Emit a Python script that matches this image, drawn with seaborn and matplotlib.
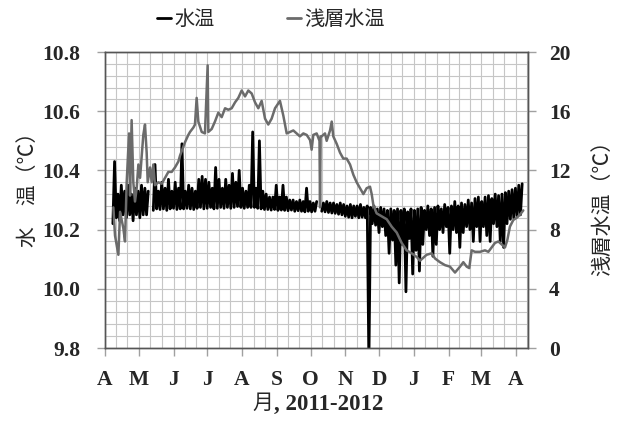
import numpy as np
import pandas as pd
import matplotlib
matplotlib.use("Agg")
import matplotlib.pyplot as plt
import seaborn as sns
from matplotlib.ticker import FixedLocator, MultipleLocator, FormatStrFormatter
from matplotlib.lines import Line2D
from matplotlib.font_manager import FontProperties

# Month axis: days counted from 1 April 2011
month_start = [0, 30, 61, 91, 122, 153, 183, 214, 244, 275, 306, 335, 366]
month_labels = ["A", "M", "J", "J", "A", "S", "O", "N", "D", "J", "F", "M", "A"]

# 水温 (left axis): logger record summarised every 3 days from day 7,
# low and high of each window (None = no record)
wt_start, wt_step = 7, 3
wt_low = [
    10.22, 10.24, 10.23, 10.25, 10.24, 10.25, 10.23, 10.25, 10.24, 10.25,
    10.25, None, 10.265, 10.27, 10.268, 10.27, 10.265, 10.27, 10.272, 10.268,
    10.27, 10.27, 10.272, 10.27, 10.268, 10.272, 10.275, 10.27, 10.272, 10.275,
    10.27, 10.272, 10.275, 10.272, 10.275, 10.272, 10.275, 10.278, 10.275, 10.272,
    10.275, 10.275, 10.275, 10.272, 10.27, 10.268, 10.268, 10.266, 10.268, 10.265,
    10.266, 10.265, 10.264, 10.266, 10.262, 10.264, 10.262, 10.26, 10.262, 10.26,
    10.262, None, 10.262, 10.26, 10.258, 10.256, 10.255, 10.252, 10.25, 10.245,
    10.242, 10.24, 10.245, 10.24, 10.242, 10.24, 9.75, 10.22, 10.215, 10.19,
    10.21, 10.18, 10.12, 10.165, 10.08, 10.02, 10.15, 9.99, 10.17, 10.05,
    10.13, 10.06, 10.15, 10.20, 10.18, 10.11, 10.15, 10.20, 10.19, 10.21,
    10.12, 10.20, 10.19, 10.14, 10.19, 10.21, 10.20, 10.16, 10.21, 10.16,
    10.21, 10.18, 10.16, 10.22, 10.21, 10.16, 10.14, 10.22, 10.235, 10.24,
    10.245, 10.25,
]
wt_high = [
    10.43, 10.32, 10.35, 10.33, 10.35, 10.32, 10.34, 10.33, 10.35, 10.34,
    10.33, None, 10.42, 10.33, 10.36, 10.34, 10.37, 10.33, 10.36, 10.34,
    10.49, 10.33, 10.35, 10.34, 10.33, 10.37, 10.38, 10.37, 10.36, 10.34,
    10.41, 10.37, 10.34, 10.37, 10.35, 10.39, 10.36, 10.40, 10.34, 10.33,
    10.35, 10.53, 10.34, 10.50, 10.33, 10.32, 10.31, 10.31, 10.35, 10.31,
    10.35, 10.31, 10.30, 10.30, 10.295, 10.30, 10.295, 10.34, 10.295, 10.29,
    10.295, None, 10.29, 10.295, 10.29, 10.29, 10.285, 10.29, 10.285, 10.28,
    10.285, 10.28, 10.28, 10.285, 10.275, 10.28, 10.275, 10.28, 10.27, 10.275,
    10.27, 10.265, 10.27, 10.265, 10.27, 10.265, 10.27, 10.26, 10.27, 10.265,
    10.27, 10.275, 10.265, 10.28, 10.27, 10.275, 10.28, 10.27, 10.285, 10.275,
    10.28, 10.295, 10.28, 10.29, 10.285, 10.30, 10.29, 10.305, 10.31, 10.295,
    10.31, 10.315, 10.305, 10.32, 10.315, 10.32, 10.325, 10.33, 10.335, 10.34,
    10.35, 10.355,
]

# 浅層水温 (right axis)
sw_day = [
    7.4, 8.9, 11.9, 13.4, 16.3, 17.8, 19.3, 21.4, 22.3, 23.7,
    25.2, 26.7, 28.2, 29.7, 31.2, 32.7, 34.1, 35.6, 37.1, 38.0,
    40.1, 41.6, 43.0, 44.5, 47.5, 50.5, 53.4, 56.4, 59.4, 62.3,
    65.3, 66.8, 68.3, 71.2, 74.2, 75.7, 78.7, 80.1, 81.6, 83.1,
    86.1, 89.0, 91.4, 92.0, 95.0, 97.9, 100.9, 103.9, 106.9, 109.8,
    112.8, 115.8, 118.7, 121.7, 124.7, 127.6, 130.6, 133.6, 136.5, 139.5,
    142.5, 145.4, 148.4, 151.4, 155.8, 158.8, 161.8, 164.7, 167.7, 170.7,
    173.6, 176.6, 179.6, 182.6, 184.0, 185.5, 188.5, 191.0, 191.5, 192.0,
    192.9, 195.9, 197.4, 200.4, 201.9, 203.3, 206.3, 209.3, 212.2, 215.2,
    218.2, 221.2, 224.1, 227.1, 230.1, 233.0, 236.0, 237.5, 239.0, 241.9,
    246.4, 250.9, 255.3, 259.8, 264.2, 268.6, 273.1, 277.6, 280.5, 286.4,
    290.9, 293.9, 298.3, 302.8, 307.2, 311.7, 316.2, 319.1, 322.1, 324.4,
    326.5, 329.5, 333.9, 338.4, 341.4, 344.3, 347.3, 350.3, 353.2, 356.2,
    358.3, 360.6, 363.6, 366.6, 369.5, 372.5,
]
sw_temp = [
    9.5, 7.6, 6.3, 9.2, 8.1, 7.2, 11.2, 14.5, 10.3, 15.4,
    11.2, 9.9, 10.8, 12.4, 11.5, 13.0, 14.4, 15.1, 13.2, 11.2,
    12.2, 11.2, 12.4, 11.0, 11.2, 11.1, 11.5, 11.9, 11.9, 12.2,
    12.6, 13.0, 13.3, 13.9, 14.4, 14.6, 14.9, 15.1, 16.9, 15.3,
    14.6, 14.5, 19.1, 14.6, 14.8, 15.3, 15.9, 15.6, 16.2, 16.1,
    16.2, 16.6, 16.9, 17.4, 17.0, 17.4, 17.2, 16.6, 16.2, 16.7,
    15.5, 15.1, 15.5, 16.2, 16.7, 15.7, 14.5, 14.6, 14.7, 14.5,
    14.3, 14.5, 14.4, 14.05, 13.4, 14.4, 14.5, 14.0, 9.5, 14.3,
    14.3, 14.5, 14.0, 14.7, 15.3, 14.3, 13.8, 13.2, 12.8, 12.8,
    12.4, 11.7, 11.2, 10.8, 10.4, 10.8, 10.9, 10.4, 9.65, 9.1,
    8.9, 8.7, 8.2, 7.8, 7.1, 6.6, 6.4, 6.15, 5.9, 6.3,
    6.4, 6.05, 5.8, 5.6, 5.5, 5.1, 5.5, 5.8, 5.5, 5.4,
    6.6, 6.5, 6.5, 6.6, 6.5, 6.8, 7.1, 7.2, 7.0, 6.8,
    7.3, 8.2, 8.65, 8.8, 9.0, 9.3,
]

sns.set_theme(style="white")
plt.rcParams["font.family"] = ["Liberation Serif", "Noto Sans CJK JP", "DejaVu Sans"]
plt.rcParams["font.weight"] = "bold"
CJK = ["Noto Sans CJK JP", "DejaVu Sans"]

# Long-format 水温 series: low/high alternate within each window,
# a new segment starts after each missing window
base = wt_start + wt_step * np.arange(len(wt_low))
low = np.array([np.nan if v is None else v for v in wt_low], float)
high = np.array([np.nan if v is None else v for v in wt_high], float)
days = np.column_stack([base, base + wt_step / 2]).ravel()
vals = np.column_stack([low, high]).ravel()
wt = pd.DataFrame({"day": days, "temp": vals, "seg": np.cumsum(np.isnan(vals))}).dropna()
sw = pd.DataFrame({"day": sw_day, "temp": sw_temp})

fig = plt.figure(figsize=(6.27, 4.24), dpi=100)
ax = fig.add_axes([0.1675, 0.1792, 0.6746, 0.6981])
ax2 = ax.twinx()

sns.lineplot(data=wt, x="day", y="temp", units="seg", estimator=None,
             color="black", lw=2.0, ax=ax, legend=False)
sns.lineplot(data=sw, x="day", y="temp", color="#6b6b6b", lw=1.8,
             ax=ax2, legend=False, sort=False)

ax.set_xlim(0, 376.7)
ax.set_ylim(9.8, 10.8)
ax2.set_ylim(0, 20)

# grid: month ticks, three grid lines per month
minor_x = []
for a, b in zip(month_start[:-1], month_start[1:]):
    minor_x += [a + (b - a) / 3, a + 2 * (b - a) / 3]
minor_x += [366 + 10.2]
ax.xaxis.set_major_locator(FixedLocator(month_start))
ax.xaxis.set_minor_locator(FixedLocator(minor_x))
ax.set_xticklabels(month_labels)
ax.yaxis.set_major_locator(MultipleLocator(0.2))
ax.yaxis.set_minor_locator(MultipleLocator(0.04))
ax.yaxis.set_major_formatter(FormatStrFormatter("%.1f"))
ax2.yaxis.set_major_locator(MultipleLocator(4))
ax2.yaxis.set_major_formatter(FormatStrFormatter("%d"))

ax.grid(which="both", color="#c6c6c6", lw=0.8)
ax.set_axisbelow(True)
for a in (ax, ax2):
    a.tick_params(which="minor", length=0)
    a.tick_params(which="major", length=6, width=1, color="#a0a0a0", direction="out")
    for s in a.spines.values():
        s.set_color("#555555")
        s.set_linewidth(1.0)
ax.tick_params(axis="x", which="major", pad=10, labelsize=15.5, bottom=True)
ax.tick_params(axis="y", which="major", pad=12, labelsize=15.5, left=True)
ax2.tick_params(axis="y", which="major", pad=9, labelsize=15.5, right=True)
ax.set_xlabel("")
ax.set_ylabel("")
ax2.set_ylabel("")

fig.text(0.045, 0.564, "水　温（℃）", rotation=90, ha="center", va="center",
         family=CJK, weight="normal", size=15)
fig.text(0.960, 0.521, "浅層水温（℃）", rotation=90, ha="center", va="center",
         family=CJK, weight="normal", size=15)

# x-axis title: 月 in the CJK face, the years in bold serif right after it
t_month = fig.text(252 / 627, 0.05, "月", ha="left", va="center",
                   family=CJK, weight="normal", size=15)
ax.annotate(", 2011-2012", xy=(1.0, 0.5), xycoords=t_month, xytext=(1, -1),
            textcoords="offset points", ha="left", va="center",
            size=16.5, weight="bold", family=["Liberation Serif"],
            annotation_clip=False)

handles = [Line2D([], [], color="black", lw=2), Line2D([], [], color="#6b6b6b", lw=2)]
fig.legend(handles, ["水温", "浅層水温"], loc="center", bbox_to_anchor=(0.432, 0.953),
           ncol=2, frameon=False, handlelength=0.7, handletextpad=0.15,
           columnspacing=3.6, prop=FontProperties(family=CJK, size=14.5, weight="normal"))

fig.savefig("out.png", dpi=100, facecolor="white")
